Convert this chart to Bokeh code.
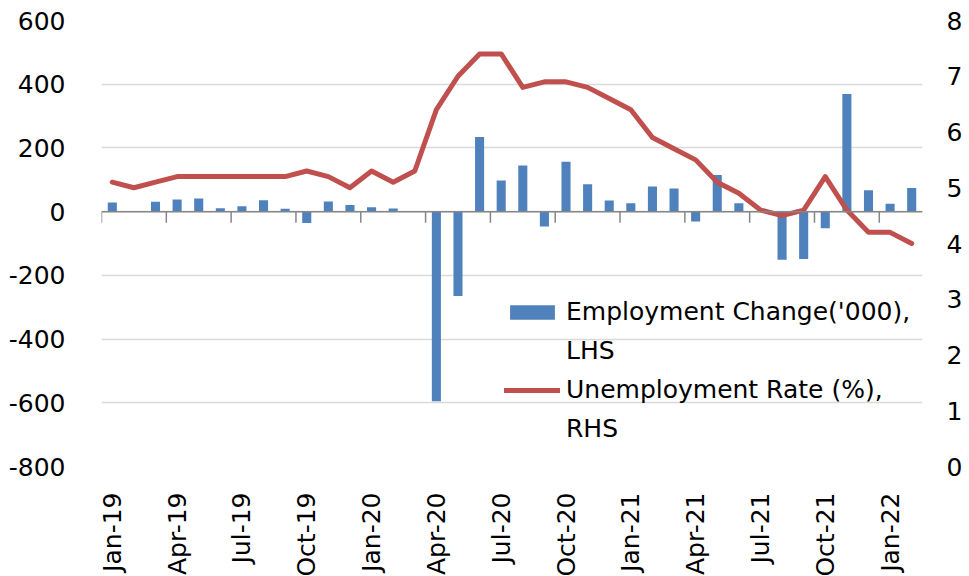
from bokeh.plotting import figure
from bokeh.models import (Range1d, LinearAxis, FixedTicker, Span, Legend, LegendItem,
                          ColumnDataSource)
from bokeh.embed import file_html
from bokeh.resources import INLINE

months = ["Jan-19", "Feb-19", "Mar-19", "Apr-19", "May-19", "Jun-19", "Jul-19", "Aug-19",
          "Sep-19", "Oct-19", "Nov-19", "Dec-19", "Jan-20", "Feb-20", "Mar-20", "Apr-20",
          "May-20", "Jun-20", "Jul-20", "Aug-20", "Sep-20", "Oct-20", "Nov-20", "Dec-20",
          "Jan-21", "Feb-21", "Mar-21", "Apr-21", "May-21", "Jun-21", "Jul-21", "Aug-21",
          "Sep-21", "Oct-21", "Nov-21", "Dec-21", "Jan-22", "Feb-22"]
employment_change = [29, 0, 31, 38, 41, 11, 17, 36, 9, -36, 32, 21, 14, 10, 0, -595,
                     -265, 234, 98, 145, -47, 157, 86, 35, 26, 79, 73, -31, 115, 26,
                     0, -151, -149, -52, 369, 67, 25, 74]
unemployment_rate = [5.1, 5.0, 5.1, 5.2, 5.2, 5.2, 5.2, 5.2, 5.2, 5.3, 5.2, 5.0, 5.3, 5.1,
                     5.3, 6.4, 7.0, 7.4, 7.4, 6.8, 6.9, 6.9, 6.8, 6.6, 6.4, 5.9, 5.7, 5.5,
                     5.1, 4.9, 4.6, 4.5, 4.6, 5.2, 4.6, 4.2, 4.2, 4.0]
left_ticks = [-800, -600, -400, -200, 0, 200, 400, 600]
right_ticks = [0, 1, 2, 3, 4, 5, 6, 7, 8]
legend_lines = [("Employment Change('000),", "LHS"), ("Unemployment Rate (%),", "RHS")]

FONT = "DejaVu Sans"
n = len(months)
xc = [i + 0.5 for i in range(n)]
src = ColumnDataSource(dict(x=xc, emp=employment_change, rate=unemployment_rate))

p = figure(frame_width=821, frame_height=446, min_border_left=101, min_border_right=40,
           min_border_top=20, min_border_bottom=102, x_range=Range1d(0, n),
           y_range=Range1d(-800, 600), output_backend="svg", toolbar_location=None)
p.outline_line_color = None
p.background_fill_color = "white"
p.xgrid.visible = False
p.ygrid.ticker = FixedTicker(ticks=left_ticks)
p.ygrid.grid_line_color = "#D9D9D9"
p.ygrid.grid_line_width = 1.5

p.extra_y_ranges = {"rate": Range1d(0, 8)}

bars = p.vbar(x="x", top="emp", bottom=0, width=0.42, source=src,
              fill_color="#4F81BD", line_color=None)
line = p.line(x="x", y="rate", source=src, y_range_name="rate", line_color="#C0504D",
              line_width=5, line_join="round", line_cap="round")
blank = p.line(x=[], y=[], line_alpha=0)

# zero axis line with category-group tick marks
p.add_layout(Span(location=0, dimension="width", line_color="#868686", line_width=1.5))
bx = [i for i in range(0, n, 3)]
p.segment(x0=bx, x1=bx, y0=[0] * len(bx), y1=[-35] * len(bx), line_color="#868686",
          line_width=1.5)

# left axis (plain hyphen for negatives, as in the reference)
ya = p.yaxis[0]
ya.ticker = FixedTicker(ticks=left_ticks)
ya.major_label_overrides = {t: str(t) for t in left_ticks}
ya.axis_line_color = None
ya.major_tick_line_color = None
ya.minor_tick_line_color = None
ya.major_label_text_font = FONT
ya.major_label_text_font_size = "25px"
ya.major_label_text_color = "black"
ya.major_label_standoff = 30

# right axis
ra = LinearAxis(y_range_name="rate", ticker=FixedTicker(ticks=right_ticks))
ra.axis_line_color = None
ra.major_tick_line_color = None
ra.minor_tick_line_color = None
ra.major_label_text_font = FONT
ra.major_label_text_font_size = "25px"
ra.major_label_text_color = "black"
ra.major_label_standoff = 18
p.add_layout(ra, "right")

# bottom axis
xa = p.xaxis[0]
lab_pos = [xc[i] for i in range(0, n, 3)]
xa.ticker = FixedTicker(ticks=lab_pos)
xa.major_label_overrides = {xc[i]: months[i] for i in range(0, n, 3)}
xa.major_label_orientation = 3.14159265 / 2
xa.axis_line_color = None
xa.major_tick_line_color = None
xa.minor_tick_line_color = None
xa.major_label_text_font = FONT
xa.major_label_text_font_size = "25px"
xa.major_label_text_color = "black"
xa.major_label_standoff = 20

legend = Legend(items=[
    LegendItem(label=legend_lines[0][0], renderers=[bars]),
    LegendItem(label=legend_lines[0][1], renderers=[blank]),
    LegendItem(label=legend_lines[1][0], renderers=[line]),
    LegendItem(label=legend_lines[1][1], renderers=[blank]),
], location=(403, 23))
legend.background_fill_alpha = 0
legend.border_line_color = None
legend.glyph_width = 56
legend.glyph_height = 18
legend.label_standoff = 6
legend.label_text_font = FONT
legend.label_text_font_size = "25px"
legend.label_text_color = "black"
legend.spacing = 10
legend.padding = 0
legend.margin = 0
p.add_layout(legend, "center")

open("out.html", "w").write(file_html(p, INLINE))
